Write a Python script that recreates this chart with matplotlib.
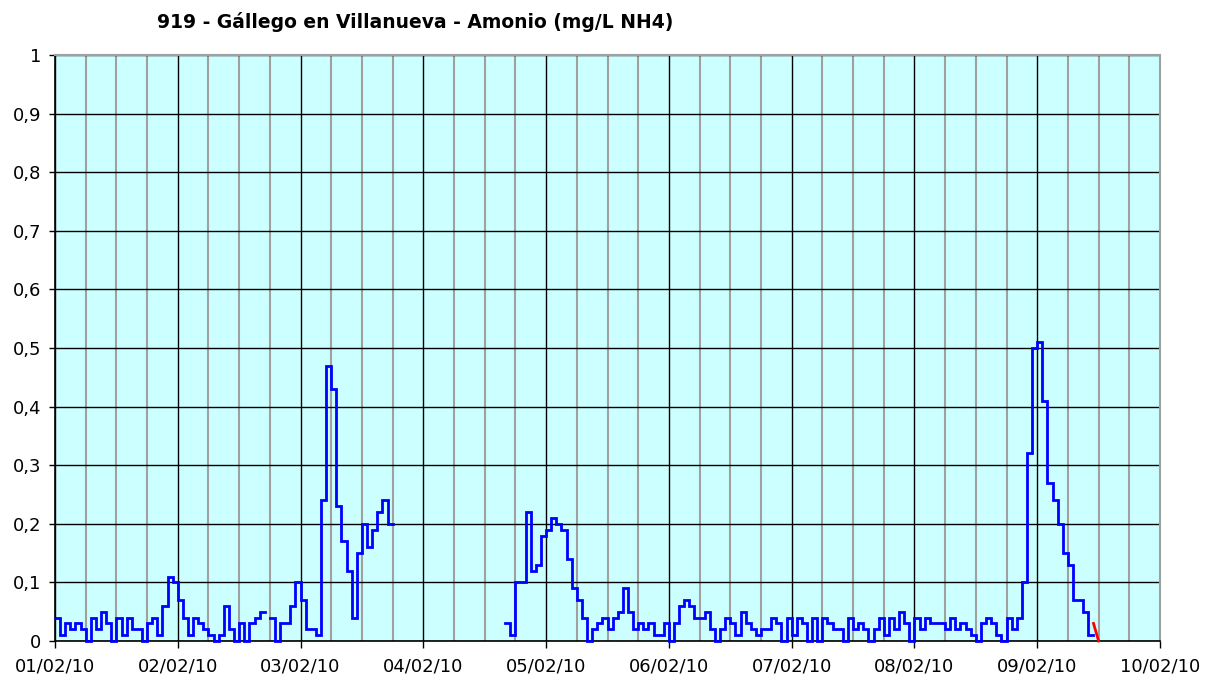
import numpy as np
import matplotlib
matplotlib.use("Agg")
import matplotlib.pyplot as plt
from matplotlib.ticker import MultipleLocator, FuncFormatter

nan = np.nan
title = "919 - Gállego en Villanueva - Amonio (mg/L NH4)"
date_labels = ["01/02/10", "02/02/10", "03/02/10", "04/02/10", "05/02/10",
               "06/02/10", "07/02/10", "08/02/10", "09/02/10", "10/02/10"]

# hourly values (mg/L NH4), one list per day
day1 = [0.04, 0.01, 0.03, 0.02, 0.03, 0.02, 0.00, 0.04, 0.02, 0.05, 0.03, 0.00,
        0.04, 0.01, 0.04, 0.02, 0.02, 0.00, 0.03, 0.04, 0.01, 0.06, 0.11, 0.10]
day2 = [0.07, 0.04, 0.01, 0.04, 0.03, 0.02, 0.01, 0.00, 0.01, 0.06, 0.02, 0.00,
        0.03, 0.00, 0.03, 0.04, 0.05, nan, 0.04, 0.00, 0.03, 0.03, 0.06, 0.10]
day3 = [0.07, 0.02, 0.02, 0.01, 0.24, 0.47, 0.43, 0.23, 0.17, 0.12, 0.04, 0.15,
        0.20, 0.16, 0.19, 0.22, 0.24, 0.20, nan, nan, nan, nan, nan, nan]
day4 = [nan, nan, nan, nan, nan, nan, nan, nan, nan, nan, nan, nan,
        nan, nan, nan, nan, 0.03, 0.01, 0.10, 0.10, 0.22, 0.12, 0.13, 0.18]
day5 = [0.19, 0.21, 0.20, 0.19, 0.14, 0.09, 0.07, 0.04, 0.00, 0.02, 0.03, 0.04,
        0.02, 0.04, 0.05, 0.09, 0.05, 0.02, 0.03, 0.02, 0.03, 0.01, 0.01, 0.03]
day6 = [0.00, 0.03, 0.06, 0.07, 0.06, 0.04, 0.04, 0.05, 0.02, 0.00, 0.02, 0.04,
        0.03, 0.01, 0.05, 0.03, 0.02, 0.01, 0.02, 0.02, 0.04, 0.03, 0.00, 0.04]
day7 = [0.01, 0.04, 0.03, 0.00, 0.04, 0.00, 0.04, 0.03, 0.02, 0.02, 0.00, 0.04,
        0.02, 0.03, 0.02, 0.00, 0.02, 0.04, 0.01, 0.04, 0.02, 0.05, 0.03, 0.00]
day8 = [0.04, 0.02, 0.04, 0.03, 0.03, 0.03, 0.02, 0.04, 0.02, 0.03, 0.02, 0.01,
        0.00, 0.03, 0.04, 0.03, 0.01, 0.00, 0.04, 0.02, 0.04, 0.10, 0.32, 0.50]
day9 = [0.51, 0.41, 0.27, 0.24, 0.20, 0.15, 0.13, 0.07, 0.07, 0.05, 0.01, 0.01]
# last provisional readings (red)
red_values = [0.03, 0.00]

blue = np.array(day1 + day2 + day3 + day4 + day5 + day6 + day7 + day8 + day9)
blue_hours = np.arange(len(blue))
red_hours = np.arange(len(blue) - 1, len(blue) - 1 + len(red_values))

fig = plt.figure(figsize=(12.06, 6.75), dpi=100)
ax = fig.add_axes([55/1206, 1 - 641/675, (1160-55)/1206, (641-55)/675])
ax.set_facecolor("#CCFFFF")

ax.plot(blue_hours, blue, color="#0000FF", lw=2.0, zorder=5, clip_on=False,
        drawstyle="steps-post", solid_joinstyle="miter")
ax.plot(red_hours, red_values, color="#FF0000", lw=2.0, zorder=5, clip_on=False)

ax.set_xlim(0, 216)
ax.set_ylim(0, 1)
ax.xaxis.set_major_locator(MultipleLocator(24))
ax.xaxis.set_minor_locator(MultipleLocator(6))
ax.xaxis.set_major_formatter(FuncFormatter(
    lambda v, p: date_labels[int(round(v/24))] if 0 <= int(round(v/24)) < len(date_labels) else ""))
ax.yaxis.set_major_locator(MultipleLocator(0.1))

def yfmt(v, p):
    s = f"{v:.1f}"
    if s.endswith(".0"):
        s = s[:-2]
    return s.replace(".", ",")
ax.yaxis.set_major_formatter(FuncFormatter(yfmt))

ax.grid(which="minor", axis="x", color="#A0A0A0", lw=1.5, zorder=1)
ax.grid(which="major", axis="x", color="black", lw=1.0, zorder=2)
ax.grid(which="major", axis="y", color="black", lw=1.0, zorder=2)
ax.set_axisbelow(True)

ax.tick_params(axis="x", which="major", length=5, width=1, pad=7, labelsize=13, direction="out")
ax.tick_params(axis="x", which="minor", length=0)
ax.tick_params(axis="y", which="major", length=4, width=1, pad=6, labelsize=13, direction="out")
for s in ["left", "bottom"]:
    ax.spines[s].set_color("black")
    ax.spines[s].set_linewidth(1.2)
for s in ["top", "right"]:
    ax.spines[s].set_color("#A0A0A0")
    ax.spines[s].set_linewidth(1.5)

fig.text(415/1206, 1 - 22/675, title, ha="center", va="center", fontsize=13.5, fontweight="bold")

fig.savefig("out.png", dpi=100)
